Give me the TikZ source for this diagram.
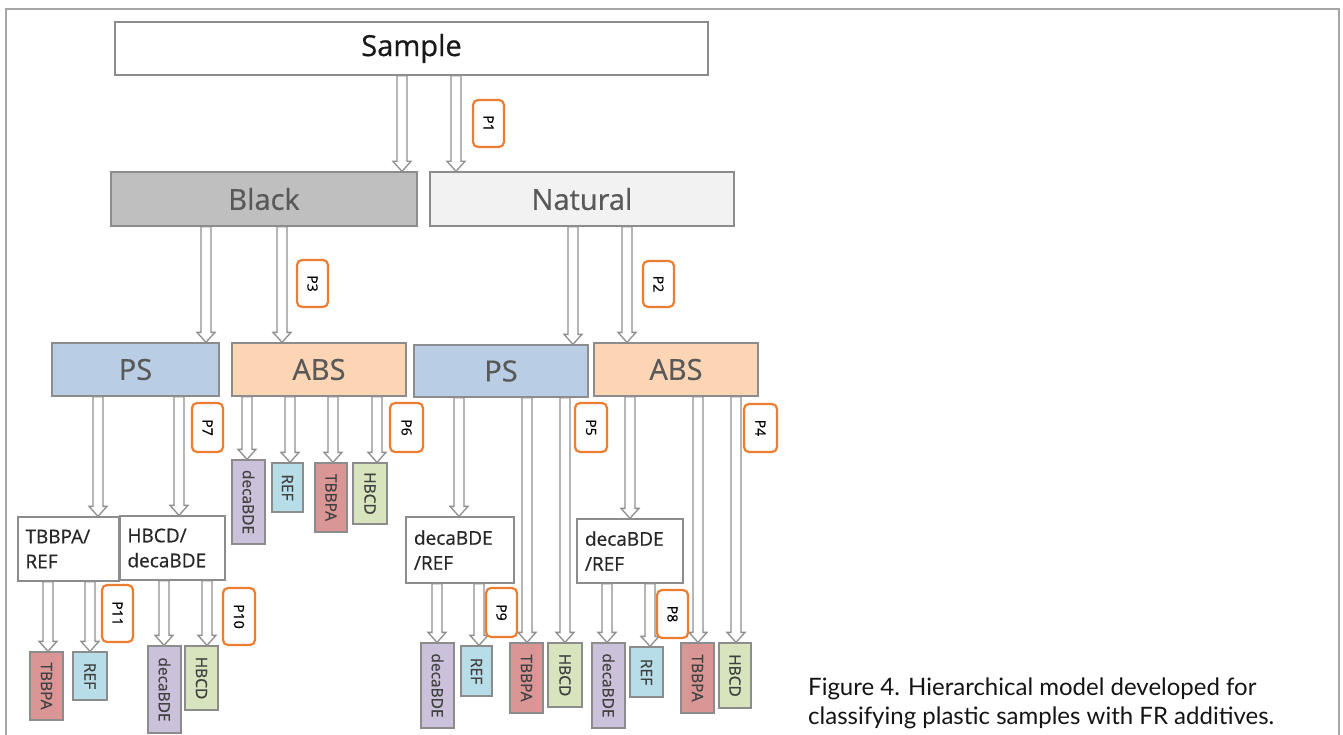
\documentclass[tikz,border=0pt]{standalone}
\usepackage{fontspec}
\setmainfont{Open Sans}
\newfontfamily\dfont[FakeBold=0.6]{Open Sans}
\newfontfamily\capfont{Lato}
\usetikzlibrary{calc}
\definecolor{boxgray}{HTML}{8C8C8C}
\definecolor{arrgray}{HTML}{8F8F8F}
\definecolor{framegray}{HTML}{A6A6A6}
\definecolor{txtgray}{HTML}{595959}
\definecolor{blackfill}{HTML}{BFBFBF}
\definecolor{natfill}{HTML}{F2F2F2}
\definecolor{psfill}{HTML}{B9CDE5}
\definecolor{absfill}{HTML}{FCD5B5}
\definecolor{tbfill}{HTML}{D99694}
\definecolor{reffill}{HTML}{B7DEE8}
\definecolor{hbfill}{HTML}{D7E4BD}
\definecolor{decafill}{HTML}{CCC1DA}
\definecolor{porange}{HTML}{ED7D31}
\tikzset{
  box/.style={draw=boxgray, line width=1.3pt, inner sep=0pt, text=txtgray},
  big/.style={box, font=\dfont\fontsize{29}{34}\selectfont},
  mid/.style={box, font=\dfont\fontsize{19}{25}\selectfont, align=left, text=black!85, text width=#1},
  leaf/.style={box, rotate=-90, font=\dfont\fontsize{15.5}{17}\selectfont, text=black!75},
  plab/.style={draw=porange, line width=2.2pt, rounded corners=5pt, rotate=-90, inner sep=0pt,
               font=\dfont\fontsize{14}{16}\selectfont, fill=white, minimum height=31pt},
  barrow/.style={draw=arrgray, line width=1.3pt, fill=white,
    to path={let \p1=(\tikztostart), \p2=(\tikztotarget) in
      (\x1-5pt,\y1) -- (\x1-5pt,\y2+10pt) -- (\x1-9pt,\y2+10pt) -- (\x1,\y2)
      -- (\x1+9pt,\y2+10pt) -- (\x1+5pt,\y2+10pt) -- (\x1+5pt,\y1) -- cycle}},
  capt/.style={anchor=base west, inner sep=0pt, text=black!92, font=\capfont\fontsize{24}{30}\selectfont}
}
\begin{document}
\begin{tikzpicture}[x=1pt,y=-1pt]
\useasboundingbox (0,0) rectangle (1343,735);
% frame
\coordinate (f1) at (6,735);
\coordinate (f2) at (6,9);
\coordinate (f3) at (1339,9);
\coordinate (f4) at (1339,735);
\draw[framegray, line width=1.5pt] (f1) -- (f2) -- (f3) -- (f4);

% main boxes
\node[big, fill=white, text=black!90, minimum width=593pt, minimum height=53pt] (sample) at (411.5,48.5) {Sample};
\node[big, fill=blackfill, minimum width=306pt, minimum height=54pt] (black) at (264,199) {Black};
\node[big, fill=natfill, minimum width=304pt, minimum height=54pt] (natural) at (582,199) {Natural};
\node[big, fill=psfill, minimum width=167pt, minimum height=53pt] (psl) at (135.5,369.5) {PS};
\node[big, fill=absfill, minimum width=174pt, minimum height=53pt] (absl) at (319,369.5) {ABS};
\node[big, fill=psfill, minimum width=174pt, minimum height=52pt] (psr) at (501,371) {PS};
\node[big, fill=absfill, minimum width=164pt, minimum height=53pt] (absr) at (676,369.5) {ABS};

% intermediate boxes
\node[mid=86pt, fill=white, minimum width=101pt, minimum height=64pt] (tr) at (68.5,549) {TBBPA/\\REF};
\node[mid=90pt, fill=white, minimum width=105pt, minimum height=64pt] (hd) at (172.5,548) {HBCD/\\decaBDE};
\node[mid=92pt, fill=white, minimum width=108pt, minimum height=66pt] (dr1) at (460,550) {decaBDE\\/REF};
\node[mid=90pt, fill=white, minimum width=106pt, minimum height=64pt] (dr2) at (630,551) {decaBDE\\/REF};

% leaves (rotated: width = vertical extent)
\node[leaf, fill=decafill, minimum width=84pt, minimum height=33pt] (db1) at (248.5,502) {decaBDE};
\node[leaf, fill=reffill, minimum width=49pt, minimum height=31pt] (rf1) at (287.5,487.5) {REF};
\node[leaf, fill=tbfill, minimum width=69pt, minimum height=32pt] (tb1) at (331,497.5) {TBBPA};
\node[leaf, fill=hbfill, minimum width=61pt, minimum height=34pt] (hb1) at (370,493.5) {HBCD};

\node[leaf, fill=tbfill, minimum width=68pt, minimum height=33pt] (tb2) at (46.5,686) {TBBPA};
\node[leaf, fill=reffill, minimum width=48pt, minimum height=34pt] (rf2) at (90,676) {REF};
\node[leaf, fill=decafill, minimum width=87pt, minimum height=33pt] (db2) at (164.5,689.5) {decaBDE};
\node[leaf, fill=hbfill, minimum width=64pt, minimum height=33pt] (hb2) at (201.5,678) {HBCD};

\node[leaf, fill=decafill, minimum width=85pt, minimum height=33pt] (db3) at (437.5,685.5) {decaBDE};
\node[leaf, fill=reffill, minimum width=50pt, minimum height=31pt] (rf3) at (476.5,671) {REF};
\node[leaf, fill=tbfill, minimum width=70pt, minimum height=33pt] (tb3) at (526.5,678) {TBBPA};
\node[leaf, fill=hbfill, minimum width=64pt, minimum height=34pt] (hb3) at (565,675) {HBCD};

\node[leaf, fill=decafill, minimum width=85pt, minimum height=33pt] (db4) at (608.5,685.5) {decaBDE};
\node[leaf, fill=reffill, minimum width=50pt, minimum height=33pt] (rf4) at (646.5,672) {REF};
\node[leaf, fill=tbfill, minimum width=70pt, minimum height=33pt] (tb4) at (697.5,678) {TBBPA};
\node[leaf, fill=hbfill, minimum width=65pt, minimum height=32pt] (hb4) at (735,675.5) {HBCD};

% arrow x positions
\coordinate (x1) at (402,0);
\coordinate (x2) at (456,0);
\coordinate (x3) at (206,0);
\coordinate (x4) at (282,0);
\coordinate (x5) at (573,0);
\coordinate (x6) at (627,0);
\coordinate (x7) at (98,0);
\coordinate (x8) at (179,0);
\coordinate (x9) at (247,0);
\coordinate (x10) at (290,0);
\coordinate (x11) at (333,0);
\coordinate (x12) at (377,0);
\coordinate (x13) at (459,0);
\coordinate (x14) at (527,0);
\coordinate (x15) at (565,0);
\coordinate (x16) at (630,0);
\coordinate (x17) at (698,0);
\coordinate (x18) at (736,0);
\coordinate (x19) at (48,0);
\coordinate (x20) at (90,0);
\coordinate (x21) at (164,0);
\coordinate (x22) at (207,0);
\coordinate (x23) at (437,0);
\coordinate (x24) at (479,0);
\coordinate (x25) at (607,0);
\coordinate (x26) at (650,0);

% arrows
\draw[barrow] (sample.south -| x1) to (black.north -| x1);
\draw[barrow] (sample.south -| x2) to (natural.north -| x2);
\draw[barrow] (black.south -| x3) to (psl.north -| x3);
\draw[barrow] (black.south -| x4) to (absl.north -| x4);
\draw[barrow] (natural.south -| x5) to (psr.north -| x5);
\draw[barrow] (natural.south -| x6) to (absr.north -| x6);
\draw[barrow] (psl.south -| x7) to (tr.north -| x7);
\draw[barrow] (psl.south -| x8) to (hd.north -| x8);
\draw[barrow] (absl.south -| x9) to (db1.west -| x9);
\draw[barrow] (absl.south -| x10) to (rf1.west -| x10);
\draw[barrow] (absl.south -| x11) to (tb1.west -| x11);
\draw[barrow] (absl.south -| x12) to (hb1.west -| x12);
\draw[barrow] (psr.south -| x13) to (dr1.north -| x13);
\draw[barrow] (psr.south -| x14) to (tb3.west -| x14);
\draw[barrow] (psr.south -| x15) to (hb3.west -| x15);
\draw[barrow] (absr.south -| x16) to (dr2.north -| x16);
\draw[barrow] (absr.south -| x17) to (tb4.west -| x17);
\draw[barrow] (absr.south -| x18) to (hb4.west -| x18);
\draw[barrow] (tr.south -| x19) to (tb2.west -| x19);
\draw[barrow] (tr.south -| x20) to (rf2.west -| x20);
\draw[barrow] (hd.south -| x21) to (db2.west -| x21);
\draw[barrow] (hd.south -| x22) to (hb2.west -| x22);
\draw[barrow] (dr1.south -| x23) to (db3.west -| x23);
\draw[barrow] (dr1.south -| x24) to (rf3.west -| x24);
\draw[barrow] (dr2.south -| x25) to (db4.west -| x25);
\draw[barrow] (dr2.south -| x26) to (rf4.west -| x26);

% P labels
\node[plab, minimum width=47pt] (p1) at (488.5,123.5) {P1};
\node[plab, minimum width=46pt] (p2) at (658.5,284) {P2};
\node[plab, minimum width=47pt] (p3) at (312.5,283.5) {P3};
\node[plab, minimum width=48pt, minimum height=33pt] (p4) at (760.5,428) {P4};
\node[plab, minimum width=49pt, minimum height=32pt] (p5) at (591,427.5) {P5};
\node[plab, minimum width=49pt, minimum height=33pt] (p6) at (406.5,427.5) {P6};
\node[plab, minimum width=49pt] (p7) at (207.5,427.5) {P7};
\node[plab, minimum width=48pt] (p8) at (672.5,614) {P8};
\node[plab, minimum width=49pt] (p9) at (501.5,612.5) {P9};
\node[plab, minimum width=57pt, minimum height=32pt] (p10) at (239,616.5) {P10};
\node[plab, minimum width=57pt] (p11) at (117.5,613.5) {P11};

% caption
\node[capt] (cap1) at (808,695) {Figure 4. Hierarchical model developed for};
\node[capt] (cap2) at (808,724) {classifying plastic samples with FR additives.};
\end{tikzpicture}
\end{document}
